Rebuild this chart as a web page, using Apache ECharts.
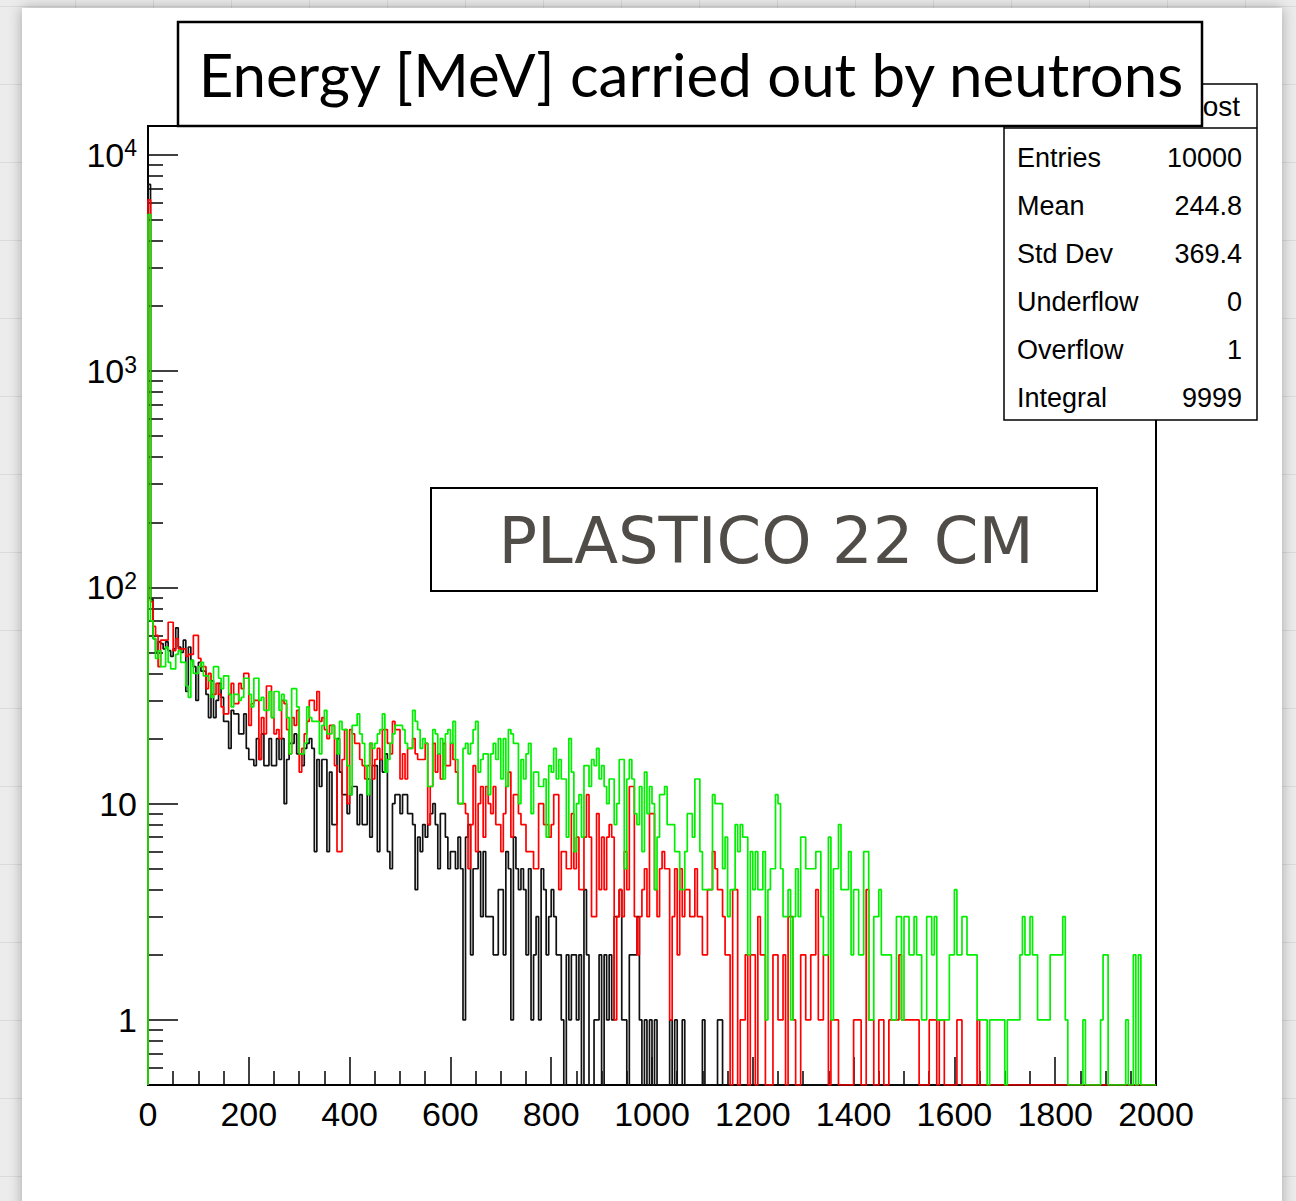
<!DOCTYPE html>
<html>
<head>
<meta charset="utf-8">
<script src="https://cdn.jsdelivr.net/npm/echarts@6/dist/echarts.min.js"></script>
<style>
html,body{margin:0;padding:0;}
body{width:1296px;height:1201px;overflow:hidden;background-color:#ececec;
background-image:linear-gradient(to right, rgba(0,0,0,0.07) 1px, transparent 1px),linear-gradient(to bottom, rgba(0,0,0,0.07) 1px, transparent 1px);
background-size:78px 78px;background-position:-3px 6px;}
#chart{width:1296px;height:1201px;}
</style>
</head>
<body>
<div id="chart"></div>
<script>
// ---------- DATA ----------
const binWidth = 5;            // MeV per bin, 400 bins over 0..2000
const xTickStep = 200;
const yTickValues = [1, 10, 100, 1000, 10000];
const yTickExponents = [0, 1, 2, 3, 4];
const yMinorTickValues = [0.6, 0.7, 0.8, 0.9,
  2, 3, 4, 5, 6, 7, 8, 9,
  20, 30, 40, 50, 60, 70, 80, 90,
  200, 300, 400, 500, 600, 700, 800, 900,
  2000, 3000, 4000, 5000, 6000, 7000, 8000, 9000];

const blackCounts = [
  7300, 88, 58, 50, 56, 55, 52, 56, 51, 48,
  52, 65, 53, 50, 57, 33, 53, 46, 43, 30,
  45, 41, 41, 32, 25, 37, 25, 30, 36, 31,
  24, 24, 18, 27, 26, 26, 21, 21, 26, 18,
  16, 16, 15, 20, 16, 21, 15, 15, 20, 15,
  15, 20, 16, 20, 10, 16, 19, 19, 21, 17,
  17, 15, 18, 19, 20, 18, 6, 16, 12, 16,
  16, 6, 14, 8, 8, 20, 14, 11, 11, 9,
  11, 12, 12, 8, 11, 8, 8, 13, 7, 15,
  15, 6, 16, 14, 17, 6, 5, 10, 11, 11,
  9, 11, 11, 9, 9, 8, 4, 7, 6, 8,
  7, 8, 9, 10, 8, 5, 9, 9, 7, 5,
  6, 6, 5, 7, 5, 1, 7, 8, 2, 5,
  5, 6, 3, 6, 3, 3, 3, 2, 2, 4,
  4, 2, 6, 5, 1, 7, 5, 4, 5, 4,
  2, 5, 1, 2, 3, 1, 5, 4, 2, 3,
  4, 3, 2, 2, 1, 0, 2, 1, 2, 2,
  1, 2, 0, 4, 2, 0, 0, 1, 1, 2,
  0, 2, 1, 2, 1, 3, 3, 4, 1, 1,
  0, 2, 2, 2, 3, 1, 0, 1, 0, 1,
  0, 1, 0, 0, 0, 0, 0, 1, 0, 1,
  0, 0, 1, 0, 0, 0, 0, 0, 0, 0,
  1, 0, 0, 0, 0, 0, 1, 1, 0, 0,
  0, 0, 0, 0, 0, 0, 0, 0, 0, 0,
  0, 0, 0, 0, 0, 0, 0, 0, 0, 0,
  0, 0, 0, 0, 0, 0, 0, 0, 0, 0,
  0, 0, 0, 0, 0, 0, 0, 0, 0, 0,
  0, 0, 0, 0, 0, 0, 0, 0, 0, 0,
  0, 0, 0, 0, 0, 0, 0, 0, 0, 0,
  0, 0, 0, 0, 0, 0, 0, 0, 0, 0,
  0, 0, 0, 0, 0, 0, 0, 0, 0, 0,
  0, 0, 0, 0, 0, 0, 0, 0, 0, 0,
  0, 0, 0, 0, 0, 0, 0, 0, 0, 0,
  0, 0, 0, 0, 0, 0, 0, 0, 0, 0,
  0, 0, 0, 0, 0, 0, 0, 0, 0, 0,
  0, 0, 0, 0, 0, 0, 0, 0, 0, 0,
  0, 0, 0, 0, 0, 0, 0, 0, 0, 0,
  0, 0, 0, 0, 0, 0, 0, 0, 0, 0,
  0, 0, 0, 0, 0, 0, 0, 0, 0, 0,
  0, 0, 0, 0, 0, 0, 0, 0, 0, 0
];

const redCounts = [
  6200, 86, 66, 60, 43, 57, 57, 57, 69, 69,
  51, 58, 52, 52, 52, 48, 49, 49, 60, 60,
  47, 43, 43, 34, 40, 32, 32, 36, 32, 28,
  26, 26, 32, 36, 29, 29, 36, 34, 40, 40,
  23, 29, 30, 30, 16, 25, 21, 35, 35, 25,
  21, 22, 20, 30, 29, 22, 17, 25, 23, 27,
  14, 18, 21, 24, 30, 30, 27, 33, 24, 25,
  22, 20, 23, 23, 15, 6, 6, 16, 22, 10,
  22, 21, 19, 19, 16, 15, 13, 15, 19, 13,
  16, 18, 16, 22, 22, 19, 17, 24, 22, 22,
  13, 17, 13, 18, 18, 20, 17, 16, 16, 16,
  19, 8, 12, 19, 14, 17, 13, 19, 15, 15,
  19, 16, 14, 10, 10, 10, 9, 5, 8, 15,
  6, 10, 12, 7, 12, 10, 9, 12, 8, 8,
  6, 9, 12, 14, 7, 11, 11, 9, 8, 8,
  6, 6, 6, 5, 5, 10, 10, 8, 8, 7,
  8, 11, 11, 4, 6, 6, 5, 5, 9, 5,
  7, 4, 4, 7, 11, 7, 3, 3, 9, 4,
  7, 4, 7, 8, 7, 1, 3, 4, 3, 6,
  4, 12, 12, 3, 2, 3, 4, 5, 3, 9,
  9, 4, 3, 5, 6, 5, 5, 1, 3, 5,
  2, 5, 3, 4, 4, 3, 3, 5, 3, 3,
  2, 2, 4, 4, 6, 5, 4, 4, 3, 2,
  2, 0, 4, 4, 0, 1, 1, 2, 0, 2,
  2, 0, 3, 2, 2, 0, 0, 0, 2, 2,
  1, 1, 2, 0, 3, 3, 1, 0, 0, 2,
  2, 1, 1, 2, 2, 4, 1, 1, 2, 2,
  0, 1, 1, 1, 0, 0, 0, 0, 0, 0,
  1, 1, 1, 0, 0, 4, 1, 1, 0, 0,
  1, 1, 0, 0, 1, 1, 1, 1, 2, 1,
  1, 1, 1, 1, 1, 1, 0, 0, 0, 0,
  1, 1, 1, 0, 1, 1, 0, 0, 0, 0,
  0, 1, 1, 0, 0, 0, 0, 0, 0, 1,
  0, 0, 0, 0, 0, 0, 0, 0, 0, 0,
  0, 0, 0, 0, 0, 0, 0, 0, 0, 0,
  0, 0, 0, 0, 0, 0, 0, 0, 0, 0,
  0, 0, 0, 0, 0, 0, 0, 0, 0, 0,
  0, 0, 0, 0, 0, 0, 0, 0, 0, 0,
  0, 0, 0, 0, 0, 0, 0, 0, 0, 0,
  0, 0, 0, 0, 0, 0, 0, 0, 0, 0
];

const greenCounts = [
  5300, 70, 58, 47, 51, 43, 43, 53, 45, 42,
  42, 49, 51, 45, 45, 35, 31, 46, 40, 40,
  43, 45, 39, 39, 37, 31, 43, 43, 38, 34,
  39, 39, 32, 28, 32, 32, 30, 31, 38, 38,
  32, 28, 38, 38, 30, 31, 27, 27, 33, 25,
  33, 33, 27, 32, 30, 25, 17, 34, 34, 28,
  17, 17, 19, 28, 25, 24, 24, 24, 17, 23,
  27, 21, 21, 23, 20, 17, 24, 22, 22, 15,
  11, 23, 23, 26, 21, 19, 15, 11, 19, 18,
  19, 21, 22, 26, 14, 16, 19, 21, 23, 23,
  23, 22, 19, 18, 18, 27, 24, 22, 18, 20,
  19, 12, 12, 22, 21, 17, 20, 13, 21, 22,
  19, 24, 16, 10, 10, 18, 19, 17, 19, 22,
  24, 14, 16, 17, 17, 11, 17, 19, 16, 20,
  13, 20, 12, 22, 21, 19, 19, 10, 16, 13,
  17, 19, 9, 14, 14, 12, 12, 13, 7, 15,
  14, 18, 13, 16, 13, 13, 7, 20, 14, 6,
  10, 11, 7, 15, 15, 12, 16, 15, 18, 13,
  15, 12, 10, 13, 13, 8, 10, 16, 16, 5,
  13, 16, 13, 9, 8, 12, 6, 14, 9, 12,
  10, 4, 7, 11, 11, 12, 8, 8, 8, 6,
  6, 4, 4, 6, 9, 9, 7, 13, 13, 6,
  4, 4, 4, 4, 11, 10, 10, 10, 5, 7,
  3, 4, 4, 8, 6, 8, 7, 7, 2, 6,
  4, 6, 4, 4, 6, 1, 4, 5, 5, 11,
  10, 5, 3, 3, 4, 1, 3, 5, 3, 7,
  7, 5, 5, 5, 5, 6, 6, 3, 2, 2,
  7, 1, 5, 5, 8, 4, 4, 4, 6, 2,
  4, 4, 2, 2, 6, 6, 1, 1, 3, 3,
  4, 2, 2, 2, 2, 1, 1, 3, 3, 1,
  3, 3, 2, 2, 3, 2, 2, 1, 1, 3,
  3, 2, 3, 1, 1, 1, 1, 1, 2, 2,
  4, 2, 2, 3, 3, 2, 2, 2, 2, 1,
  1, 1, 1, 0, 1, 1, 1, 1, 1, 1,
  0, 1, 1, 1, 1, 1, 2, 3, 2, 2,
  3, 2, 2, 1, 1, 1, 1, 1, 2, 2,
  2, 2, 2, 3, 1, 0, 0, 0, 0, 0,
  0, 1, 0, 0, 0, 0, 0, 0, 1, 2,
  2, 0, 0, 0, 0, 0, 0, 0, 1, 0,
  0, 2, 0, 2, 0, 0, 0, 0, 0, 0
];

const statNames = ['Entries', 'Mean', 'Std Dev', 'Underflow', 'Overflow', 'Integral'];
const statValues = ['10000', '244.8', '369.4', '0', '1', '9999'];
const titleText = 'Energy [MeV] carried out by neutrons';
const labelText = 'PLASTICO 22 CM';

// ---------- CHART ----------
const Y_MIN = 0.5, Y_MAX = 13600, X_MIN = 0, X_MAX = 2000;

function stepPoints(counts) {
  // empty bins are drawn on the frame bottom, as ROOT does on log scale
  const v = c => (c > 0 ? c : Y_MIN);
  const pts = [[0, Y_MIN]];
  counts.forEach((c, i) => pts.push([i * binWidth, v(c)]));
  const end = counts.length * binWidth;
  pts.push([end, v(counts[counts.length - 1])]);
  pts.push([end, Y_MIN]);
  return pts;
}

const chart = echarts.init(document.getElementById('chart'), null, { renderer: 'svg' });
const axisFont = '"Liberation Sans", Arial, Helvetica, sans-serif';

function histSeries(name, counts, color) {
  return {
    name, type: 'line', data: stepPoints(counts), step: 'end',
    showSymbol: false, symbol: 'none', clip: true, animation: false,
    lineStyle: { color, width: 1.7 }, xAxisIndex: 0, yAxisIndex: 0
  };
}

const statTexts = [];
statNames.forEach((n, i) => {
  const y = 158 + i * 48;
  statTexts.push({ type: 'text', z: 100, silent: true,
    style: { text: n, x: 1017, y, align: 'left', verticalAlign: 'middle', fill: '#000', fontSize: 27, fontFamily: axisFont } });
  statTexts.push({ type: 'text', z: 100, silent: true,
    style: { text: statValues[i], x: 1242, y, align: 'right', verticalAlign: 'middle', fill: '#000', fontSize: 27, fontFamily: axisFont } });
});

const option = {
  animation: false,
  backgroundColor: 'transparent',
  grid: { left: 148, top: 126, width: 1008, height: 959, show: true, borderColor: '#000', borderWidth: 2,
          backgroundColor: '#fff', containLabel: false, outerBoundsMode: 'none' },
  xAxis: {
    type: 'value', min: X_MIN, max: X_MAX, interval: xTickStep, position: 'bottom',
    axisLine: { show: true, onZero: false, lineStyle: { color: '#000', width: 2 } },
    axisTick: { show: true, inside: true, length: 28, lineStyle: { color: '#000', width: 1.5 } },
    minorTick: { show: true, splitNumber: 4, length: 14, lineStyle: { color: '#000', width: 1.5 } },
    axisLabel: { color: '#000', fontSize: 34, fontFamily: axisFont, margin: 12, showMinLabel: true, showMaxLabel: true,
                 formatter: v => String(Math.round(v)) },
    splitLine: { show: false }, minorSplitLine: { show: false }
  },
  yAxis: [
    {
      type: 'log', min: Y_MIN, max: Y_MAX, position: 'left',
      axisLine: { show: true, onZero: false, lineStyle: { color: '#000', width: 2 } },
      axisTick: { show: true, inside: true, length: 30, lineStyle: { color: '#000', width: 1.5 }, customValues: yTickValues },
      axisLabel: {
        customValues: yTickValues, margin: 11, color: '#000', fontSize: 34, fontFamily: axisFont,
        formatter: function (val) {
          const idx = yTickValues.findIndex(t => Math.abs(t - val) / t < 1e-6);
          const e = idx >= 0 ? yTickExponents[idx] : Math.round(Math.log10(val));
          if (e === 0) return '{b|1}';
          if (e === 1) return '{b|10}';
          return '{b|10}{s|' + e + '}';
        },
        rich: {
          b: { fontSize: 34, fontFamily: axisFont, color: '#000', lineHeight: 36 },
          s: { fontSize: 23, fontFamily: axisFont, color: '#000', verticalAlign: 'top', lineHeight: 22 }
        }
      },
      splitLine: { show: false }, minorTick: { show: false }
    },
    {
      type: 'log', min: Y_MIN, max: Y_MAX, position: 'left', offset: 0,
      axisLine: { show: false },
      axisTick: { show: true, inside: true, length: 15, lineStyle: { color: '#000', width: 1.5 }, customValues: yMinorTickValues },
      axisLabel: { show: false },
      splitLine: { show: false }, minorTick: { show: false }
    }
  ],
  series: [
    histSeries('black', blackCounts, '#111111'),
    histSeries('red', redCounts, '#ff0000'),
    histSeries('green', greenCounts, '#00f000')
  ],
  graphic: [
    { type: 'rect', z: -100, silent: true, shape: { x: 22, y: 8, width: 1260, height: 1260 },
      style: { fill: '#ffffff', shadowBlur: 14, shadowColor: 'rgba(0,0,0,0.30)' } },
    // stats box
    { type: 'rect', z: 99, silent: true, shape: { x: 1004, y: 84, width: 253, height: 336 },
      style: { fill: '#fff', stroke: '#000', lineWidth: 1.5 } },
    { type: 'line', z: 99, silent: true, shape: { x1: 1004, y1: 128, x2: 1257, y2: 128 },
      style: { stroke: '#000', lineWidth: 1.5 } },
    { type: 'text', z: 100, silent: true,
      style: { text: 'ost', x: 1240, y: 106, align: 'right', verticalAlign: 'middle', fill: '#000', fontSize: 28, fontFamily: axisFont } },
    ...statTexts,
    // title box
    { type: 'rect', z: 110, silent: true, shape: { x: 178, y: 22, width: 1024, height: 104 },
      style: { fill: '#fff', stroke: '#000', lineWidth: 2.5 } },
    { type: 'text', z: 111, silent: true,
      style: { text: titleText, x: 691, y: 74, align: 'center', verticalAlign: 'middle', fill: '#000', fontSize: 60, fontFamily: 'Lato, "Open Sans", sans-serif' } },
    // label box
    { type: 'rect', z: 110, silent: true, shape: { x: 431, y: 488, width: 666, height: 103 },
      style: { fill: '#fff', stroke: '#000', lineWidth: 2 } },
    { type: 'text', z: 111, silent: true,
      style: { text: labelText, x: 766, y: 541, align: 'center', verticalAlign: 'middle', fill: '#504c48', fontSize: 64, fontFamily: '"DejaVu Sans", sans-serif' } }
  ]
};
chart.setOption(option);
</script>
</body>
</html>
